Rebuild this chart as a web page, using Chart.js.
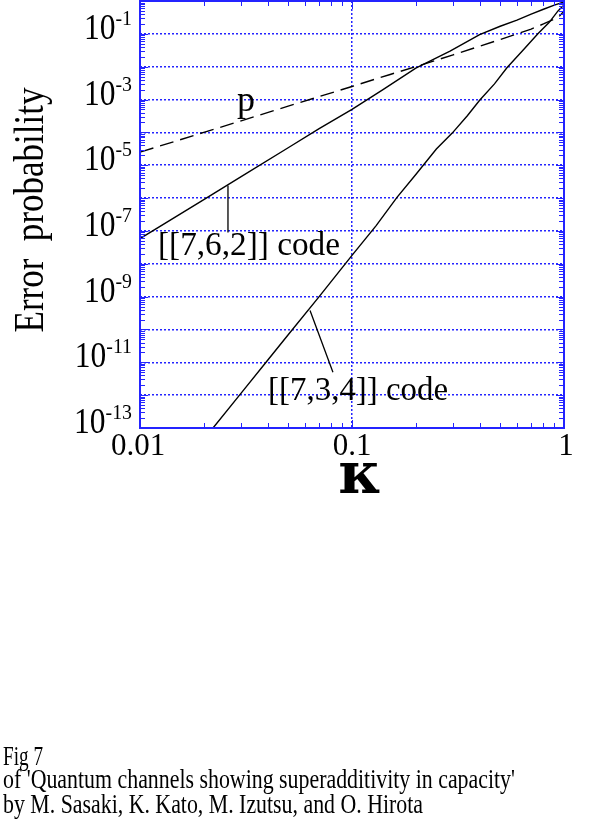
<!DOCTYPE html>
<html>
<head>
<meta charset="utf-8">
<script src="https://cdn.jsdelivr.net/npm/chart.js@4.4.1/dist/chart.umd.min.js"></script>
<style>
  html, body { margin: 0; padding: 0; background: #fff; }
</style>
</head>
<body>
<canvas id="chart" width="597" height="835"></canvas>
<script>
// p (dashed)
const kappaP = [0.01, 0.02, 0.03, 0.05, 0.07, 0.1, 0.15, 0.2, 0.3, 0.4, 0.5, 0.6, 0.7, 0.8, 0.9, 0.95, 1];
const valuesP = [2.5e-5, 1.0e-4, 2.25e-4, 6.3e-4, 1.23e-3, 2.5e-3, 5.7e-3, 1.0e-2, 2.3e-2, 4.2e-2, 6.7e-2, 0.10, 0.14, 0.20, 0.28, 0.34, 0.5];

// [[7,6,2]] code
const kappa762 = [0.01, 0.02, 0.03, 0.05, 0.07, 0.1, 0.14, 0.2, 0.29, 0.4, 0.5, 0.6, 0.7, 0.8, 0.9, 1];
const values762 = [5.8e-8, 9e-7, 4.5e-6, 3.4e-5, 1.3e-4, 5.0e-4, 2.0e-3, 9.0e-3, 0.030, 0.095, 0.17, 0.26, 0.40, 0.56, 0.75, 0.93];

// [[7,3,4]] code
const kappa734 = [0.0221, 0.03, 0.04, 0.05, 0.07, 0.1, 0.13, 0.163, 0.2, 0.25, 0.297, 0.35, 0.4, 0.47, 0.538, 0.65, 0.753, 0.85, 0.937, 1];
const values734 = [1e-13, 1.15e-12, 1.15e-11, 6.9e-11, 1.0e-9, 1.8e-8, 1.45e-7, 1.05e-6, 5.2e-6, 3.1e-5, 9.5e-5, 3.2e-4, 9.5e-4, 3.0e-3, 9.3e-3, 0.035, 0.1, 0.22, 0.5, 0.75];

// axes
const xTickValues = [0.01, 0.1, 1];
const xTickLabels = ['0.01', '0.1', '1'];
const yLabelExponents = [-1, -3, -5, -7, -9, -11, -13];
const xGridValues = [0.1];
const yGridValues = [1e-12, 1e-11, 1e-10, 1e-9, 1e-8, 1e-7, 1e-6, 1e-5, 1e-4, 1e-3, 1e-2, 1e-1];

const captionLines = [
    'Fig 7',
    "of 'Quantum channels showing superadditivity in capacity'",
    'by M. Sasaki, K. Kato, M. Izutsu, and O. Hirota'
];

const SERIF = '"Liberation Serif", "DejaVu Serif", serif';
const BLUE = '#2424ff';

function points(xs, ys) {
    return xs.map((x, i) => ({ x: x, y: ys[i] }));
}

// draws text, optionally squeezed to a given width
function drawText(ctx, txt, x, y, size, opts = {}) {
    ctx.save();
    ctx.font = `${opts.bold ? 'bold ' : ''}${size}px ${opts.family || SERIF}`;
    ctx.fillStyle = '#000';
    ctx.textBaseline = 'alphabetic';
    const w = ctx.measureText(txt).width;
    const sx = opts.width ? opts.width / w : (opts.sx || 1);
    ctx.translate(x, y);
    if (opts.rotate) ctx.rotate(opts.rotate);
    ctx.scale(sx, 1);
    let dx = 0;
    if (opts.align === 'center') dx = -w / 2;
    if (opts.align === 'right') dx = -w;
    ctx.fillText(txt, dx, 0);
    ctx.restore();
    return w * sx;
}

const decorations = {
    id: 'decorations',
    afterDatasetsDraw(chart) {
        const ctx = chart.ctx;
        const xs = chart.scales.x, ys = chart.scales.y;

        // annotations
        drawText(ctx, 'p', xs.getPixelForValue(0.0287), ys.getPixelForValue(4.6e-4), 36);
        drawText(ctx, '[[7,6,2]] code', xs.getPixelForValue(0.01216), ys.getPixelForValue(1.8e-8), 34, { width: 182 });
        drawText(ctx, '[[7,3,4]] code', xs.getPixelForValue(0.0402), ys.getPixelForValue(7e-13), 34, { width: 180 });

        ctx.save();
        ctx.strokeStyle = '#000';
        ctx.lineWidth = 1.3;
        ctx.beginPath();
        ctx.moveTo(xs.getPixelForValue(0.026), ys.getPixelForValue(2.4e-6));
        ctx.lineTo(xs.getPixelForValue(0.026), ys.getPixelForValue(8.9e-8));
        ctx.moveTo(xs.getPixelForValue(0.0634), ys.getPixelForValue(3.8e-10));
        ctx.lineTo(xs.getPixelForValue(0.0813), ys.getPixelForValue(5e-12));
        ctx.stroke();
        ctx.restore();
    },
    afterDraw(chart) {
        const ctx = chart.ctx;
        const xs = chart.scales.x, ys = chart.scales.y;
        const a = chart.chartArea;

        ctx.save();
        ctx.strokeStyle = BLUE;
        ctx.lineWidth = 1;
        ctx.beginPath();
        // y ticks, left and right, inward
        for (let e = -13; e <= 0; e++) {
            for (let k = 1; k <= 9; k++) {
                const v = k * Math.pow(10, e);
                if (v > 1.0000001) break;
                const py = Math.round(ys.getPixelForValue(v)) + 0.5;
                const len = k === 1 ? 8 : 5;
                ctx.moveTo(a.left, py); ctx.lineTo(a.left + len, py);
                ctx.moveTo(a.right, py); ctx.lineTo(a.right - len, py);
            }
        }
        // x ticks, bottom and top, inward
        for (let e = -2; e <= 0; e++) {
            for (let k = 1; k <= 9; k++) {
                const v = k * Math.pow(10, e);
                if (v > 1.0000001) break;
                const px = Math.round(xs.getPixelForValue(v)) + 0.5;
                const len = k === 1 ? 8 : 5;
                ctx.moveTo(px, a.bottom); ctx.lineTo(px, a.bottom - len);
                ctx.moveTo(px, a.top); ctx.lineTo(px, a.top + len);
            }
        }
        ctx.stroke();
        // frame
        ctx.lineWidth = 2;
        ctx.strokeRect(a.left, a.top, a.right - a.left, a.bottom - a.top);
        ctx.restore();

        // y tick labels
        yLabelExponents.forEach(e => {
            const py = ys.getPixelForValue(Math.pow(10, e));
            const sup = '-' + Math.abs(e);
            const supW = drawText(ctx, sup, 132, py - 9, 22, { align: 'right', sx: 0.9 });
            drawText(ctx, '10', 132 - supW, py + 5, 35, { align: 'right', sx: 0.9 });
        });

        // x tick labels
        xTickValues.forEach((v, i) => {
            const px = xs.getPixelForValue(v);
            const off = i === 2 ? 2 : (i === 0 ? -2 : 0);
            drawText(ctx, xTickLabels[i], px + off, a.bottom + 27, 31, { align: 'center' });
        });

        // axis titles
        drawText(ctx, '\u03ba', (a.left + a.right) / 2 + 8, 493, 58,
            { align: 'center', bold: true, family: '"DejaVu Serif", serif' });
        drawText(ctx, 'Error  probability', 43, 210, 42, { align: 'center', rotate: -Math.PI / 2, width: 245 });

        // caption
        drawText(ctx, captionLines[0], 3, 765, 28, { width: 40 });
        drawText(ctx, captionLines[1], 3, 788, 28, { width: 512 });
        drawText(ctx, captionLines[2], 3, 813, 28, { width: 420 });
    }
};

const line = (data, dash) => ({
    data: data,
    showLine: true,
    borderColor: '#000',
    borderWidth: 1.4,
    borderDash: dash,
    pointRadius: 0,
    tension: 0,
    fill: false
});

new Chart(document.getElementById('chart'), {
    type: 'scatter',
    data: {
        datasets: [
            line(points(kappaP, valuesP), [14, 7]),
            line(points(kappa762, values762), []),
            line(points(kappa734, values734), [])
        ]
    },
    options: {
        responsive: false,
        animation: false,
        layout: { padding: { left: 140, right: 33, top: 1, bottom: 407 } },
        plugins: { legend: { display: false }, tooltip: { enabled: false } },
        scales: {
            x: {
                type: 'logarithmic',
                min: 0.01,
                max: 1,
                afterBuildTicks: s => { s.ticks = xGridValues.map(v => ({ value: v })); },
                ticks: { display: false },
                grid: { color: BLUE, lineWidth: 1.5, drawTicks: false },
                border: { display: false, dash: [2, 2] }
            },
            y: {
                type: 'logarithmic',
                min: 1e-13,
                max: 1,
                afterBuildTicks: s => { s.ticks = yGridValues.map(v => ({ value: v })); },
                ticks: { display: false },
                grid: { color: BLUE, lineWidth: 1.5, drawTicks: false },
                border: { display: false, dash: [2, 2] }
            }
        }
    },
    plugins: [decorations]
});
</script>
</body>
</html>
